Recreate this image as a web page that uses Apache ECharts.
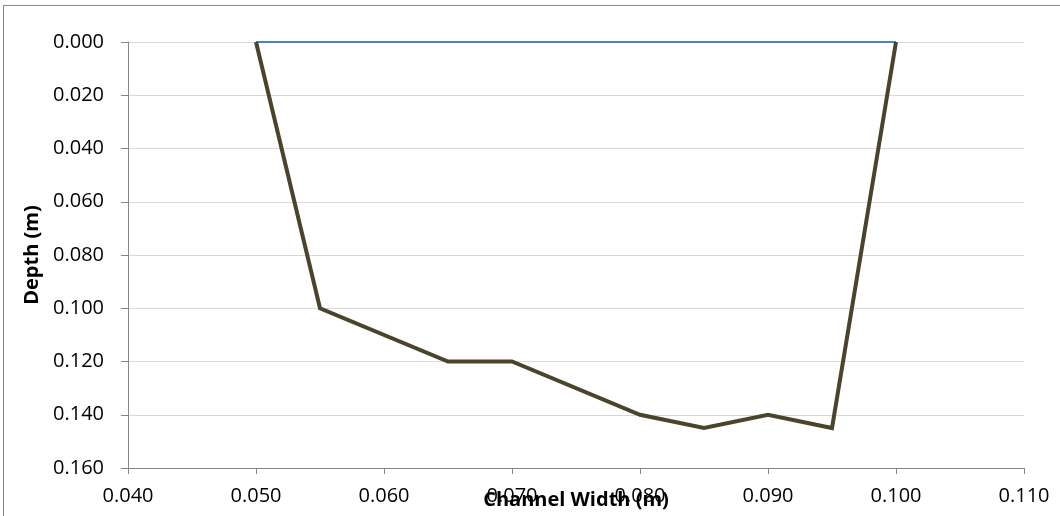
<!DOCTYPE html>
<html>
<head>
<meta charset="utf-8">
<script src="https://cdn.jsdelivr.net/npm/echarts@6/dist/echarts.min.js"></script>
<style>
  html, body { margin: 0; padding: 0; background: #fff; overflow: hidden; }
  #frame { position: absolute; left: 3px; top: 5px; width: 1100px; height: 560px;
           border-left: 1px solid #8a8a8a; border-top: 1px solid #8a8a8a; }
  #chart { position: absolute; left: 0; top: 0; width: 1060px; height: 516px; }
</style>
</head>
<body>
<div id="frame"></div>
<div id="chart"></div>
<script>
// Channel cross-section: bed profile and water surface
const bedWidth = [0.050, 0.055, 0.065, 0.070, 0.080, 0.085, 0.090, 0.095, 0.100];
const bedDepth = [0.000, 0.100, 0.120, 0.120, 0.140, 0.145, 0.140, 0.145, 0.000];
const surfaceWidth = [0.050, 0.100];
const surfaceDepth = [0.000, 0.000];

const xTicks = { min: 0.040, max: 0.110, interval: 0.010 };
const yTicks = { min: 0.000, max: 0.160, interval: 0.020 };

const pairs = (xs, ys) => xs.map((x, i) => [x, ys[i]]);

const tickFont = { fontFamily: 'Open Sans', fontSize: 20, color: '#000' };
const nameFont = { fontFamily: 'Open Sans', fontWeight: 'bold', fontSize: 20, color: '#000' };

const chart = echarts.init(document.getElementById('chart'), null, { renderer: 'canvas' });
chart.setOption({
  animation: false,
  backgroundColor: 'transparent',
  grid: { left: 128, top: 42, right: 36, bottom: 48, containLabel: false, outerBoundsMode: 'none' },
  xAxis: {
    type: 'value',
    min: xTicks.min, max: xTicks.max, interval: xTicks.interval,
    name: 'Channel Width (m)',
    nameLocation: 'middle',
    nameGap: 32,
    nameMoveOverlap: false,
    nameTextStyle: Object.assign({ verticalAlign: 'middle' }, nameFont),
    axisLine: { show: true, onZero: false, lineStyle: { color: '#868686', width: 1 } },
    axisTick: { show: true, inside: false, length: 6, lineStyle: { color: '#868686' } },
    axisLabel: Object.assign({ margin: 18, formatter: v => v.toFixed(3) }, tickFont),
    splitLine: { show: false }
  },
  yAxis: {
    type: 'value',
    inverse: true,
    min: yTicks.min, max: yTicks.max, interval: yTicks.interval,
    name: 'Depth (m)',
    nameLocation: 'middle',
    nameGap: 96,
    nameMoveOverlap: false,
    nameTextStyle: Object.assign({ verticalAlign: 'middle' }, nameFont),
    axisLine: { show: true, onZero: false, lineStyle: { color: '#868686', width: 1 } },
    axisTick: { show: true, inside: false, length: 7, lineStyle: { color: '#868686' } },
    axisLabel: Object.assign({ margin: 24, formatter: v => v.toFixed(3) }, tickFont),
    splitLine: { show: true, lineStyle: { color: '#d9d9d9', width: 1 } }
  },
  series: [
    {
      name: 'Bed',
      type: 'line',
      data: pairs(bedWidth, bedDepth),
      showSymbol: false,
      lineStyle: { color: '#4a452a', width: 4, join: 'miter' },
      z: 3
    },
    {
      name: 'Water surface',
      type: 'line',
      data: pairs(surfaceWidth, surfaceDepth),
      showSymbol: false,
      lineStyle: { color: '#4f81bd', width: 2 },
      z: 2
    }
  ]
});
</script>
</body>
</html>
